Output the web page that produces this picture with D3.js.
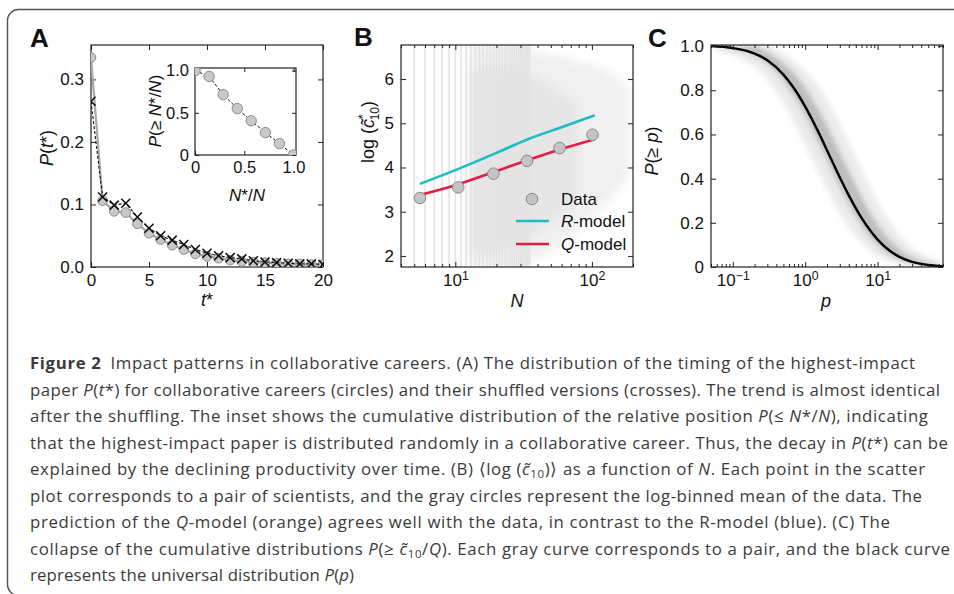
<!DOCTYPE html>
<html>
<head>
<meta charset="utf-8">
<script src="https://cdn.jsdelivr.net/npm/d3@7"></script>
<style>
  body { margin: 0; background: #fff; }
  svg text { font-family: "Liberation Sans", Arial, sans-serif; fill: #111; }
  .cap { font-family: "Open Sans", "Noto Sans", sans-serif; font-size: 16.8px; fill: #3a3a3a; }
</style>
</head>
<body>
<svg id="fig" width="954" height="594"></svg>
<script>
// ---- panel A: timing of highest-impact paper
const aT = [0, 1, 2, 3, 4, 5, 6, 7, 8, 9, 10, 11, 12, 13, 14, 15, 16, 17, 18, 19, 20];
const aCircles = [0.335, 0.106, 0.089, 0.087, 0.069, 0.054, 0.044, 0.035, 0.028, 0.021, 0.017, 0.014, 0.011, 0.009, 0.008, 0.007, 0.006, 0.005, 0.005, 0.004, 0.004];
const aCrosses = [0.265, 0.112, 0.099, 0.102, 0.080, 0.062, 0.050, 0.043, 0.036, 0.028, 0.022, 0.018, 0.015, 0.013, 0.010, 0.008, 0.007, 0.006, 0.005, 0.005, 0.004];
// inset: P(>= N*/N)
const insetX = [0, 0.143, 0.286, 0.429, 0.571, 0.714, 0.857, 1.0];
const insetY = [1.0, 0.93, 0.715, 0.55, 0.405, 0.265, 0.135, 0.0];

// ---- panel B: log c10 vs N
const bN = [5.5, 10.5, 19, 33.5, 58, 101];
const bMean = [3.31, 3.55, 3.86, 4.15, 4.44, 4.74];
const modelN = [5.5, 10, 20, 34, 60, 105];
const rModel = [3.63, 3.94, 4.33, 4.64, 4.91, 5.18];
const qModel = [3.38, 3.60, 3.92, 4.17, 4.42, 4.64];
// scatter of pairs: discrete N columns + cloud envelopes
const scatterCols = d3.range(5, 36);
const cloudN = [13, 20, 30, 45, 60, 80, 110, 150, 190];
const cloudHi = [6.77, 6.77, 6.7, 6.6, 6.5, 6.4, 6.3, 6.1, 5.8];
const cloudLo = [1.75, 1.75, 1.8, 2.0, 2.3, 2.6, 3.0, 3.4, 3.9];
const coreN = [13, 20, 30, 45, 60, 80];
const coreHi = [6.2, 6.3, 6.2, 6.0, 5.7, 5.4];
const coreLo = [2.0, 2.1, 2.3, 2.6, 2.9, 3.3];

// ---- panel C: universal distribution P(>= p)
const cP = [0.05, 0.1, 0.2, 0.3, 0.5, 0.7, 1, 1.5, 2, 3, 4, 6, 10, 15, 20, 30, 50, 80];
const cCdf = [1.0, 0.991, 0.966, 0.936, 0.871, 0.809, 0.726, 0.615, 0.529, 0.406, 0.324, 0.222, 0.124, 0.071, 0.046, 0.023, 0.009, 0.003];
// spread of the individual (gray) curves
const bandLevel = [1.0, 0.98, 0.95, 0.9, 0.8, 0.7, 0.6, 0.5, 0.4, 0.3, 0.2, 0.1, 0.05, 0.02, 0.0];
const outerLeft = [0.05, 0.06, 0.12, 0.21, 0.39, 0.6, 0.85, 1.2, 1.7, 2.4, 3.6, 6.5, 10, 17, 40];
const outerRight = [0.35, 0.4, 0.58, 0.92, 1.65, 2.5, 3.5, 4.9, 6.9, 9.8, 15, 27, 45, 75, 80];
const innerLeft = [0.06, 0.13, 0.22, 0.35, 0.62, 0.95, 1.35, 1.9, 2.65, 3.8, 5.7, 10, 16, 27, 60];
const innerRight = [0.22, 0.27, 0.38, 0.6, 1.05, 1.6, 2.3, 3.2, 4.5, 6.4, 9.6, 17.5, 28, 48, 80];

const svg = d3.select("#fig");
const defs = svg.append("defs");
defs.append("filter").attr("id", "soft").append("feGaussianBlur").attr("stdDeviation", 2.5);
defs.append("filter").attr("id", "softer").append("feGaussianBlur").attr("stdDeviation", 5);

// outer rounded border
svg.append("rect").attr("x", 7.5).attr("y", 9.5).attr("width", 1000).attr("height", 586)
  .attr("rx", 11).attr("fill", "none").attr("stroke", "#555").attr("stroke-width", 1.4);

const FS = 17;

function supLabel(base, exp) {
  return function () {
    const t = d3.select(this).text("");
    t.append("tspan").text(base);
    t.append("tspan").attr("dy", "-0.5em").attr("font-size", "0.72em").text(exp);
  };
}

// four mirrored axes with inward ticks
function axes(g, x, y, c) {
  const [x0, x1] = x.range(), [yb, yt] = y.range();
  const tk = c.tick || 5;
  const add = (axis, tr, vals, size, fmt) => {
    const a = g.append("g").attr("transform", tr)
      .call(axis.tickValues(vals).tickSize(-size).tickPadding(c.pad || 7).tickFormat(fmt || (() => "")));
    a.select(".domain").remove();
    a.selectAll("line").attr("stroke", "#222").attr("stroke-width", 1);
    a.selectAll("text").attr("font-size", c.fs || FS).attr("fill", "#111");
    return a;
  };
  const bx = add(d3.axisBottom(x), `translate(0,${yb})`, c.xTicks, tk, c.xFmt);
  add(d3.axisTop(x), `translate(0,${yt})`, c.xTicks, tk);
  add(d3.axisLeft(y), `translate(${x0},0)`, c.yTicks, tk, c.yFmt);
  add(d3.axisRight(y), `translate(${x1},0)`, c.yTicks, tk);
  if (c.xMinor) {
    add(d3.axisBottom(x), `translate(0,${yb})`, c.xMinor, 3);
    add(d3.axisTop(x), `translate(0,${yt})`, c.xMinor, 3);
  }
  if (c.xSup) bx.selectAll("text").each(function (d) { supLabel("10", c.xSup(d)).call(this); });
  g.append("rect").attr("x", x0).attr("y", yt).attr("width", x1 - x0).attr("height", yb - yt)
    .attr("fill", "none").attr("stroke", "#222").attr("stroke-width", 1.2);
}

function clip(id, x, y) {
  defs.append("clipPath").attr("id", id).append("rect")
    .attr("x", x.range()[0]).attr("y", y.range()[1])
    .attr("width", x.range()[1] - x.range()[0]).attr("height", y.range()[0] - y.range()[1]);
  return `url(#${id})`;
}

function rich(t, parts) {
  parts.forEach(p => {
    const s = t.append("tspan").text(p[0]);
    if (p[1] === "i") s.attr("font-style", "italic");
    if (p[1] === "b") s.attr("font-weight", "bold");
    if (p[2]) Object.entries(p[2]).forEach(([k, v]) => s.attr(k, v));
  });
  return t;
}

const zeroFmt = d => d === 0 ? "0" : d3.format(".1f")(d);

// ================= Panel A
{
  const g = svg.append("g");
  const x = d3.scaleLinear().domain([0, 20]).range([91, 323]);
  const y = d3.scaleLinear().domain([0, 0.355]).range([267, 45]);
  axes(g, x, y, { xTicks: [0, 5, 10, 15, 20], yTicks: [0, 0.1, 0.2, 0.3], xFmt: d3.format("d"), yFmt: d3.format(".1f") });
  const cp = g.append("g").attr("clip-path", clip("clipA", x, y));
  cp.append("path").datum(aT).attr("fill", "none").attr("stroke", "#a8a8a8").attr("stroke-width", 2.2)
    .attr("d", d3.line().x(d => x(d)).y((d, i) => y(aCircles[i])));
  cp.selectAll("circle").data(aT).join("circle")
    .attr("cx", d => x(d)).attr("cy", (d, i) => y(aCircles[i])).attr("r", 4.8)
    .attr("fill", "#c8c8c8").attr("stroke", "#8c8c8c").attr("stroke-width", 1);
  cp.append("path").datum(aT).attr("fill", "none").attr("stroke", "#111").attr("stroke-width", 1.1)
    .attr("stroke-dasharray", "3,2")
    .attr("d", d3.line().x(d => x(d)).y((d, i) => y(aCrosses[i])));
  const cross = d3.symbol(d3.symbolX, 55);
  cp.selectAll(".x").data(aT).join("path")
    .attr("transform", (d, i) => `translate(${x(d)},${y(aCrosses[i])})`)
    .attr("d", cross).attr("fill", "none").attr("stroke", "#111").attr("stroke-width", 1.6);

  rich(g.append("text").attr("transform", "translate(53,148) rotate(-90)").attr("text-anchor", "middle").attr("font-size", 18),
    [["P", "i"], ["("], ["t", "i"], ["*"], [")"]]);
  rich(g.append("text").attr("x", 207).attr("y", 306).attr("text-anchor", "middle").attr("font-size", 18),
    [["t", "i"], ["*"]]);
  g.append("text").attr("x", 30).attr("y", 47).attr("font-size", 26).attr("font-weight", "bold").text("A");

  // inset
  const ix = d3.scaleLinear().domain([0, 1.025]).range([195, 296]);
  const iy = d3.scaleLinear().domain([0, 1.03]).range([155, 68]);
  const ig = g.append("g");
  ig.append("rect").attr("x", 195).attr("y", 68).attr("width", 101).attr("height", 87).attr("fill", "#fff");
  axes(ig, ix, iy, { tick: 4, fs: 16.5, pad: 6, xTicks: [0, 0.5, 1], yTicks: [0, 0.5, 1], xFmt: zeroFmt, yFmt: zeroFmt });
  const ic = ig.append("g").attr("clip-path", clip("clipI", ix, iy));
  ic.append("path").datum(insetX).attr("fill", "none").attr("stroke", "#111").attr("stroke-width", 1)
    .attr("stroke-dasharray", "3,2")
    .attr("d", d3.line().x(d => ix(d)).y((d, i) => iy(insetY[i])));
  ic.selectAll("circle").data(insetX).join("circle")
    .attr("cx", d => ix(d)).attr("cy", (d, i) => iy(insetY[i])).attr("r", 5.2)
    .attr("fill", "#c8c8c8").attr("stroke", "#8c8c8c").attr("stroke-width", 1);
  rich(ig.append("text").attr("transform", "translate(161,111) rotate(-90)").attr("text-anchor", "middle").attr("font-size", 17),
    [["P", "i"], ["(≥ "], ["N", "i"], ["*/"], ["N", "i"], [")"]]);
  rich(ig.append("text").attr("x", 247).attr("y", 201).attr("text-anchor", "middle").attr("font-size", 17),
    [["N", "i"], ["*/"], ["N", "i"]]);
}

// ================= Panel B
{
  const g = svg.append("g");
  const x = d3.scaleLog().domain([4, 200]).range([401, 633]);
  const y = d3.scaleLinear().domain([1.75, 6.77]).range([267, 45]);
  const cp = g.append("g").attr("clip-path", clip("clipB", x, y));
  cp.append("path").datum(cloudN).attr("fill", "#f0f0f0").attr("filter", "url(#softer)")
    .attr("d", d3.area().curve(d3.curveBasis).x(d => x(d)).y0((d, i) => y(cloudLo[i])).y1((d, i) => y(cloudHi[i])));
  cp.append("path").datum(coreN).attr("fill", "#e6e6e6").attr("filter", "url(#softer)")
    .attr("d", d3.area().curve(d3.curveBasis).x(d => x(d)).y0((d, i) => y(coreLo[i])).y1((d, i) => y(coreHi[i])));
  cp.selectAll(".col").data(scatterCols).join("line")
    .attr("x1", d => x(d)).attr("x2", d => x(d)).attr("y1", y(1.75)).attr("y2", y(6.77))
    .attr("stroke", "#e3e3e3").attr("stroke-width", 1.6);
  cp.append("path").datum(modelN).attr("fill", "none").attr("stroke", "#1dbdc2").attr("stroke-width", 2.6)
    .attr("d", d3.line().curve(d3.curveMonotoneX).x(d => x(d)).y((d, i) => y(rModel[i])));
  cp.append("path").datum(modelN).attr("fill", "none").attr("stroke", "#e51c44").attr("stroke-width", 2.6)
    .attr("d", d3.line().curve(d3.curveMonotoneX).x(d => x(d)).y((d, i) => y(qModel[i])));
  cp.selectAll("circle").data(bN).join("circle")
    .attr("cx", d => x(d)).attr("cy", (d, i) => y(bMean[i])).attr("r", 5.8)
    .attr("fill", "#c4c4c4").attr("stroke", "#8a8a8a").attr("stroke-width", 1);
  axes(g, x, y, {
    xTicks: [10, 100], yTicks: [2, 3, 4, 5, 6], yFmt: d3.format("d"),
    xMinor: [4, 5, 6, 7, 8, 9, 20, 30, 40, 50, 60, 70, 80, 90, 200],
    xFmt: d => d, xSup: d => String(Math.round(Math.log10(d)))
  });
  // legend
  const lg = g.append("g");
  lg.append("circle").attr("cx", 532).attr("cy", 199).attr("r", 5.8)
    .attr("fill", "#c4c4c4").attr("stroke", "#8a8a8a");
  lg.append("text").attr("x", 561).attr("y", 205).attr("font-size", FS).text("Data");
  [["R", "#1dbdc2", 221], ["Q", "#e51c44", 244]].forEach(([k, col, yy]) => {
    lg.append("line").attr("x1", 516).attr("x2", 549).attr("y1", yy).attr("y2", yy)
      .attr("stroke", col).attr("stroke-width", 2.6);
    rich(lg.append("text").attr("x", 561).attr("y", yy + 6).attr("font-size", FS), [[k, "i"], ["-model"]]);
  });
  rich(g.append("text").attr("transform", "translate(374,132) rotate(-90)").attr("text-anchor", "middle").attr("font-size", 18),
    [["log ("], ["c̃", "i"],
     ["*", null, { dy: -7, "font-size": 12 }],
     ["10", null, { dy: 12, dx: -6, "font-size": 12 }],
     [")", null, { dy: -5 }]]);
  g.append("text").attr("x", 517).attr("y", 307).attr("text-anchor", "middle").attr("font-size", 18)
    .attr("font-style", "italic").text("N");
  g.append("text").attr("x", 354).attr("y", 46).attr("font-size", 26).attr("font-weight", "bold").text("B");
}

// ================= Panel C
{
  const g = svg.append("g");
  const x = d3.scaleLog().domain([0.05, 80]).range([711, 943]);
  const y = d3.scaleLinear().domain([0, 1.005]).range([267, 45]);
  const cp = g.append("g").attr("clip-path", clip("clipC", x, y));
  const band = (lo, hi, op) => cp.append("path").datum(bandLevel)
    .attr("fill", "#555").attr("fill-opacity", op).attr("filter", "url(#soft)")
    .attr("d", d3.area().curve(d3.curveMonotoneY).y(d => y(d)).x0((d, i) => x(lo[i])).x1((d, i) => x(hi[i])));
  band(outerLeft, outerRight, 0.12);
  band(innerLeft, innerRight, 0.3);
  cp.append("path").datum(cP).attr("fill", "none").attr("stroke", "#000").attr("stroke-width", 2.4)
    .attr("d", d3.line().curve(d3.curveMonotoneX).x(d => x(d)).y((d, i) => y(cCdf[i])));
  axes(g, x, y, {
    xTicks: [0.1, 1, 10], yTicks: [0, 0.2, 0.4, 0.6, 0.8, 1.0], yFmt: zeroFmt,
    xMinor: [0.05, 0.06, 0.07, 0.08, 0.09, 0.2, 0.3, 0.4, 0.5, 0.6, 0.7, 0.8, 0.9, 2, 3, 4, 5, 6, 7, 8, 9, 20, 30, 40, 50, 60, 70, 80],
    xFmt: d => d, xSup: d => { const e = Math.round(Math.log10(d)); return e < 0 ? "−" + (-e) : String(e); }
  });
  rich(g.append("text").attr("transform", "translate(658,151) rotate(-90)").attr("text-anchor", "middle").attr("font-size", 18),
    [["P", "i"], ["(≥ "], ["p", "i"], [")"]]);
  g.append("text").attr("x", 826).attr("y", 307).attr("text-anchor", "middle").attr("font-size", 18)
    .attr("font-style", "italic").text("p");
  g.append("text").attr("x", 648).attr("y", 47).attr("font-size", 26).attr("font-weight", "bold").text("C");
}

// ================= caption
const sub = { "baseline-shift": "-3", "font-size": 11.5 };
const capLines = [
  [915, [["Figure 2", "b"], ["\u2002Impact patterns in collaborative careers. (A) The distribution of the timing of the highest-impact"]]],
  [940, [["paper "], ["P", "i"], ["("], ["t", "i"], ["*) for collaborative careers (circles) and their shuffled versions (crosses). The trend is almost identical"]]],
  [928, [["after the shuffling. The inset shows the cumulative distribution of the relative position "], ["P", "i"], ["(≤ "], ["N", "i"], ["*/"], ["N", "i"], ["), indicating"]]],
  [948, [["that the highest-impact paper is distributed randomly in a collaborative career. Thus, the decay in "], ["P", "i"], ["("], ["t", "i"], ["*) can be"]]],
  [925, [["explained by the declining productivity over time. (B) ⟨log ("], ["c̃", "i"], ["10", null, sub], [")⟩ as a function of "], ["N", "i"], [". Each point in the scatter"]]],
  [922, [["plot corresponds to a pair of scientists, and the gray circles represent the log-binned mean of the data. The"]]],
  [890, [["prediction of the "], ["Q", "i"], ["-model (orange) agrees well with the data, in contrast to the R-model (blue). (C) The"]]],
  [950, [["collapse of the cumulative distributions "], ["P", "i"], ["(≥ "], ["c̃", "i"], ["10", null, sub], ["/"], ["Q", "i"], ["). Each gray curve corresponds to a pair, and the black curve"]]],
  [354, [["represents the universal distribution "], ["P", "i"], ["("], ["p", "i"], [")"]]]
];
capLines.forEach(([end, parts], i) => {
  const t = svg.append("text").attr("class", "cap").attr("x", 30).attr("y", 369 + i * 26.5)
    .attr("textLength", end - 30).attr("lengthAdjust", "spacing");
  rich(t, parts);
});
</script>
</body>
</html>
